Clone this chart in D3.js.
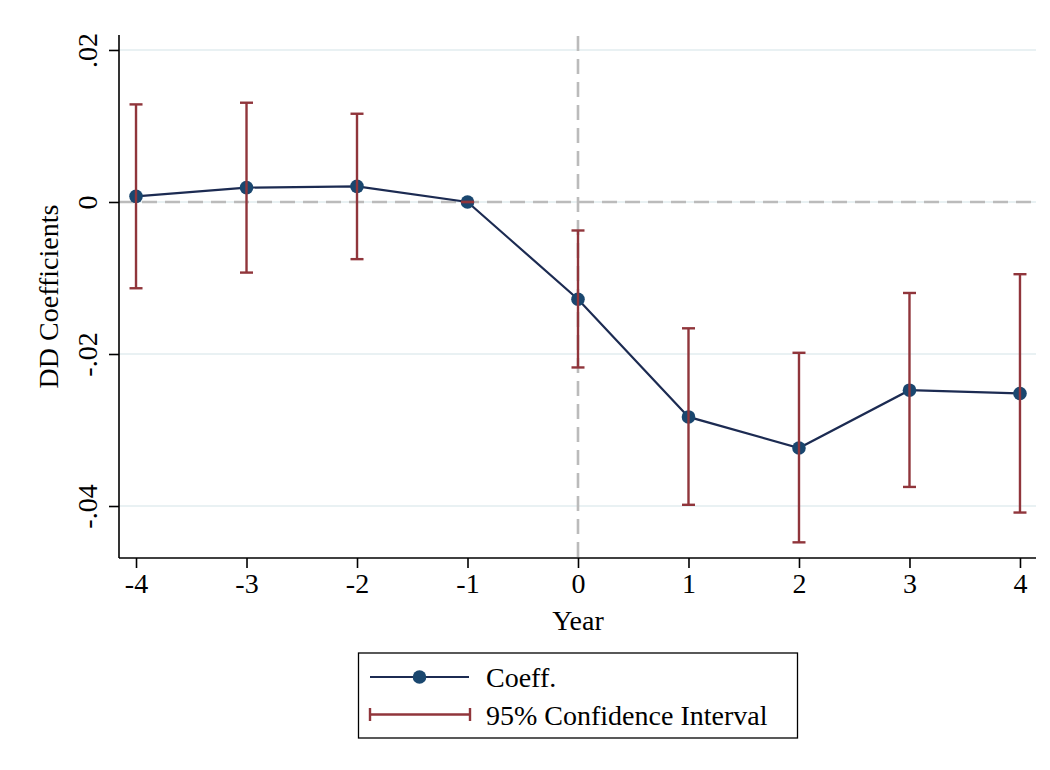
<!DOCTYPE html>
<html><head><meta charset="utf-8">
<script src="https://cdn.jsdelivr.net/npm/d3@7"></script>
<style>body{margin:0;background:#fff}svg{display:block}</style>
</head><body>
<svg id="c" width="1050" height="770"></svg>
<script>
const years = [-4, -3, -2, -1, 0, 1, 2, 3, 4];
const coef  = [0.00074, 0.00189, 0.00206, 0, -0.01279, -0.02828, -0.03237, -0.02476, -0.02520];
const ciLow = [-0.01135, -0.00929, -0.00752, 0, -0.02177, -0.03984, -0.04478, -0.03749, -0.04086];
const ciHigh= [0.01284, 0.01306, 0.01161, 0, -0.00375, -0.01662, -0.01984, -0.01197, -0.00950];
const yTicks = [0.02, 0, -0.02, -0.04];
const yTickLabels = [".02", "0", "-.02", "-.04"];
const xTicks = years;
const legendLabels = ["Coeff.", "95% Confidence Interval"];

const FONT = "'Liberation Serif', 'Times New Roman', serif";
const FS = 28;
const navyLine = "#1c2b52", navyMark = "#1a476f", maroon = "#90353b";

const svg = d3.select("#c");
const x = d3.scaleLinear().domain([-4.154, 4.145]).range([119, 1036]);
const y = d3.scaleLinear().domain([-0.04684, 0.02197]).range([558, 35]);

// gridlines
svg.append("g").selectAll("line").data(yTicks).join("line")
  .attr("x1", 119).attr("x2", 1036)
  .attr("y1", d => y(d)).attr("y2", d => y(d))
  .attr("stroke", "#e9f1f3").attr("stroke-width", 2);

// reference lines
svg.append("line").attr("x1", 119).attr("x2", 1036).attr("y1", y(0)).attr("y2", y(0))
  .attr("stroke", "#bbbbbb").attr("stroke-width", 2.6).attr("stroke-dasharray", "15,8");
svg.append("line").attr("x1", x(0)).attr("x2", x(0)).attr("y1", 36).attr("y2", 558)
  .attr("stroke", "#bbbbbb").attr("stroke-width", 2.6).attr("stroke-dasharray", "15,8");

// axes
const yAxis = d3.axisLeft(y).tickValues(yTicks).tickSize(10).tickFormat((d, i) => yTickLabels[i]);
const gy = svg.append("g").attr("transform", "translate(119,0)").call(yAxis);
gy.select(".domain").attr("stroke", "#000").attr("stroke-width", 1.6).attr("d", "M0,35V558");
gy.selectAll(".tick line").attr("stroke", "#000").attr("stroke-width", 1.6);
gy.selectAll(".tick text").attr("font-family", FONT).attr("font-size", FS).attr("fill", "#000")
  .attr("x", null).attr("dy", null)
  .attr("text-anchor", "middle")
  .attr("transform", "translate(-22,0) rotate(-90)");

const xAxis = d3.axisBottom(x).tickValues(xTicks).tickSize(10).tickFormat(d => d < 0 ? "-" + Math.abs(d) : String(d));
const gx = svg.append("g").attr("transform", "translate(0,558)").call(xAxis);
gx.select(".domain").attr("stroke", "#000").attr("stroke-width", 1.6).attr("d", "M119,0H1036");
gx.selectAll(".tick line").attr("stroke", "#000").attr("stroke-width", 1.6);
gx.selectAll(".tick text").attr("font-family", FONT).attr("font-size", FS).attr("fill", "#000")
  .attr("y", 35).attr("dy", null);

// axis titles
svg.append("text").attr("x", x(0)).attr("y", 630).attr("text-anchor", "middle")
  .attr("font-family", FONT).attr("font-size", FS).text("Year");
svg.append("text").attr("transform", `translate(58,${(35 + 558) / 2}) rotate(-90)`)
  .attr("text-anchor", "middle").attr("font-family", FONT).attr("font-size", FS).text("DD Coefficients");

// series line
const pts = years.map((d, i) => [d, coef[i]]);
svg.append("path").datum(pts)
  .attr("d", d3.line().x(d => x(d[0])).y(d => y(d[1])))
  .attr("fill", "none").attr("stroke", navyLine).attr("stroke-width", 2.2);
svg.append("g").selectAll("circle").data(pts).join("circle")
  .attr("cx", d => x(d[0])).attr("cy", d => y(d[1])).attr("r", 6.8).attr("fill", navyMark);

// CI
const ci = years.map((d, i) => ({ x: d, lo: ciLow[i], hi: ciHigh[i] }));
const gci = svg.append("g").attr("stroke", maroon).attr("stroke-width", 2.4);
gci.selectAll("line.v").data(ci).join("line").attr("class", "v")
  .attr("x1", d => x(d.x)).attr("x2", d => x(d.x)).attr("y1", d => y(d.lo)).attr("y2", d => y(d.hi));
gci.selectAll("line.hi").data(ci).join("line").attr("class", "hi")
  .attr("x1", d => x(d.x) - 6.5).attr("x2", d => x(d.x) + 6.5).attr("y1", d => y(d.hi)).attr("y2", d => y(d.hi));
gci.selectAll("line.lo").data(ci).join("line").attr("class", "lo")
  .attr("x1", d => x(d.x) - 6.5).attr("x2", d => x(d.x) + 6.5).attr("y1", d => y(d.lo)).attr("y2", d => y(d.lo));

// legend
const lg = svg.append("g");
lg.append("rect").attr("x", 358.5).attr("y", 653).attr("width", 439).attr("height", 85)
  .attr("fill", "#fff").attr("stroke", "#000").attr("stroke-width", 1.3);
lg.append("line").attr("x1", 370).attr("x2", 469).attr("y1", 677).attr("y2", 677)
  .attr("stroke", navyLine).attr("stroke-width", 2.2);
lg.append("circle").attr("cx", 419.5).attr("cy", 677).attr("r", 6.8).attr("fill", navyMark);
lg.append("line").attr("x1", 370).attr("x2", 470).attr("y1", 714.5).attr("y2", 714.5)
  .attr("stroke", maroon).attr("stroke-width", 2.4);
lg.append("line").attr("x1", 370).attr("x2", 370).attr("y1", 708).attr("y2", 721).attr("stroke", maroon).attr("stroke-width", 2.4);
lg.append("line").attr("x1", 470).attr("x2", 470).attr("y1", 708).attr("y2", 721).attr("stroke", maroon).attr("stroke-width", 2.4);
lg.selectAll("text").data(legendLabels).join("text")
  .attr("x", 486).attr("y", (d, i) => i === 0 ? 687 : 724.5)
  .attr("font-family", FONT).attr("font-size", FS).text(d => d);
</script>
</body></html>
